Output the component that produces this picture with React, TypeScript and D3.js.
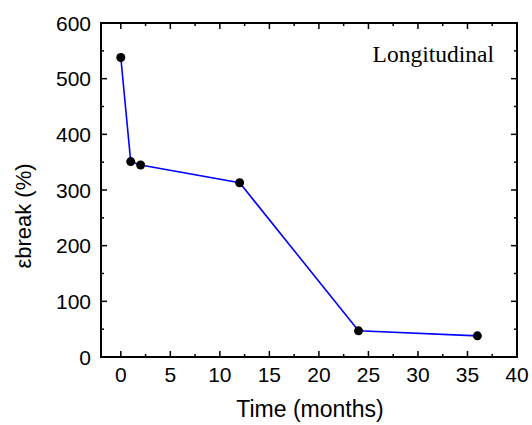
import React, { useEffect, useRef } from 'react';
import * as d3 from 'd3';

const months = [0, 1, 2, 12, 24, 36];
const strain = [538, 351, 345, 313, 47, 38];
const xTicks = [0, 5, 10, 15, 20, 25, 30, 35, 40];
const yTicks = [0, 100, 200, 300, 400, 500, 600];

export default function App() {
  const ref = useRef<SVGSVGElement | null>(null);

  useEffect(() => {
    const width = 532;
    const height = 425;
    const margin = { top: 23, right: 15, bottom: 68, left: 101 };
    const w = width - margin.left - margin.right;
    const h = height - margin.top - margin.bottom;

    const svg = d3.select(ref.current);
    svg.selectAll('*').remove();

    const x = d3.scaleLinear().domain([-2, 40]).range([0, w]);
    const y = d3.scaleLinear().domain([0, 600]).range([h, 0]);

    const g = svg.append('g').attr('transform', `translate(${margin.left},${margin.top})`);

    const font = 'Liberation Sans, Arial, sans-serif';

    // minor ticks
    const xMinor = d3.range(2.5, 40, 5);
    const yMinor = d3.range(50, 600, 100);

    const tick = (x1: number, y1: number, x2: number, y2: number) =>
      g.append('line').attr('x1', x1).attr('y1', y1).attr('x2', x2).attr('y2', y2)
        .attr('stroke', '#000').attr('stroke-width', 1.5);

    xTicks.forEach(t => {
      tick(x(t), h, x(t), h - 6);
      tick(x(t), 0, x(t), 6);
    });
    xMinor.forEach(t => {
      tick(x(t), h, x(t), h - 3);
      tick(x(t), 0, x(t), 3);
    });
    yTicks.forEach(t => {
      tick(0, y(t), 6, y(t));
      tick(w, y(t), w - 6, y(t));
    });
    yMinor.forEach(t => {
      tick(0, y(t), 3, y(t));
      tick(w, y(t), w - 3, y(t));
    });

    g.append('rect').attr('x', 0).attr('y', 0).attr('width', w).attr('height', h)
      .attr('fill', 'none').attr('stroke', '#000').attr('stroke-width', 2);

    g.selectAll('.xl').data(xTicks).enter().append('text')
      .attr('x', d => x(d)).attr('y', h + 25)
      .attr('text-anchor', 'middle')
      .attr('font-family', font).attr('font-size', 21)
      .text(d => d);

    g.selectAll('.yl').data(yTicks).enter().append('text')
      .attr('x', -10).attr('y', d => y(d) + 7.5)
      .attr('text-anchor', 'end')
      .attr('font-family', font).attr('font-size', 21)
      .text(d => d);

    g.append('text')
      .attr('x', 310 - margin.left).attr('y', 417 - margin.top)
      .attr('text-anchor', 'middle')
      .attr('font-family', font).attr('font-size', 23)
      .text('Time (months)');

    g.append('text')
      .attr('transform', `translate(${23 - margin.left},${216 - margin.top}) rotate(-90)`)
      .attr('dy', '0.35em')
      .attr('text-anchor', 'middle')
      .attr('font-family', font).attr('font-size', 22)
      .text('εbreak (%)');

    g.append('text')
      .attr('x', w - 23).attr('y', 62 - margin.top)
      .attr('text-anchor', 'end')
      .attr('font-family', 'Liberation Serif, Times New Roman, serif').attr('font-size', 23.5)
      .text('Longitudinal');

    const pts = months.map((m, i) => [m, strain[i]] as [number, number]);

    const line = d3.line<[number, number]>().x(d => x(d[0])).y(d => y(d[1]));
    g.append('path').datum(pts).attr('d', line)
      .attr('fill', 'none').attr('stroke', '#0000ff').attr('stroke-width', 1.6);

    g.selectAll('.pt').data(pts).enter().append('circle')
      .attr('cx', d => x(d[0])).attr('cy', d => y(d[1]))
      .attr('r', 4.5).attr('fill', '#000');
  }, []);

  return (
    <svg ref={ref} width={532} height={425}
      style={{ position: 'absolute', left: 0, top: 0 }} />
  );
}
